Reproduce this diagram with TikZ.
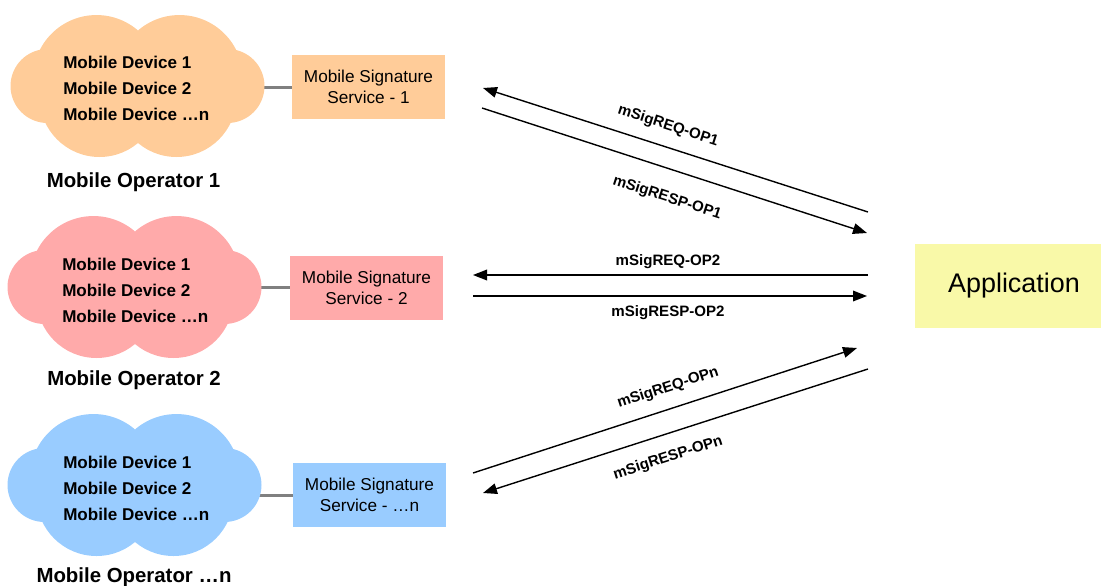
\documentclass[tikz,border=0pt]{standalone}
\usepackage{fontspec}
\setmainfont{Liberation Sans}
\usetikzlibrary{arrows.meta}

\definecolor{opOrange}{HTML}{FFCC99}
\definecolor{opPink}{HTML}{FFAAAA}
\definecolor{opBlue}{HTML}{99CCFF}
\definecolor{appYellow}{HTML}{F9F9A8}
\definecolor{linkGray}{HTML}{808080}

% a cloud built from six overlapping discs, centred on (#1,#2)
\newcommand\opcloud[3]{%
  \begin{scope}[shift={(#1,#2)}]
    \fill[#3] (-90,0) circle[radius=27.75pt]
              (90,0) circle[radius=27.75pt]
              (-41,-7.5) circle[radius=47.6pt]
              (42,-7.5) circle[radius=47.6pt]
              (-38,11) circle[radius=45pt]
              (39,11) circle[radius=45pt];
  \end{scope}}

\tikzset{
  cloudarea/.style={inner sep=0pt, minimum width=189.75pt, minimum height=106.5pt},
  devices/.style={anchor=west, inner sep=0pt, align=left,
    font=\fontsize{12.8pt}{19.5pt}\selectfont\bfseries},
  operator/.style={anchor=base, inner sep=0pt,
    font=\fontsize{15.3pt}{18pt}\selectfont\bfseries},
  service/.style={inner sep=0pt, align=center, minimum width=114.75pt, minimum height=48pt,
    font=\fontsize{12.9pt}{15.75pt}\selectfont},
  appbox/.style={fill=appYellow, inner sep=0pt, minimum width=148.5pt, minimum height=63pt,
    font=\fontsize{20.2pt}{24pt}\selectfont},
  link/.style={draw=linkGray, line width=2.25pt},
  msg/.style={draw=black, line width=1.05pt, -{Triangle[length=10.5pt, width=8pt]}},
  msglabel/.style={inner sep=0pt, font=\fontsize{11.3pt}{13pt}\selectfont\bfseries},
}

\begin{document}
\begin{tikzpicture}[x=0.75pt, y=-0.75pt]
  \useasboundingbox (0,0) rectangle (1101,586);

  % outline areas of the three operator clouds
  \node[cloudarea] (cloud1) at (137.5,86) {};
  \node[cloudarea] (cloud2) at (134.5,287) {};
  \node[cloudarea] (cloud3) at (134.5,485) {};

  % signature services
  \node[service, fill=opOrange] (svc1) at (368.5,87) {Mobile Signature\\Service - 1};
  \node[service, fill=opPink]   (svc2) at (366.5,287.5) {Mobile Signature\\Service - 2};
  \node[service, fill=opBlue]   (svc3) at (369.5,495) {Mobile Signature\\Service - \dots n};

  % links between each operator and its service
  \draw[link] (svc1.west) -- ([xshift=-3pt]svc1.west -| cloud1.east);
  \draw[link] (svc2.west) -- ([xshift=-3pt]svc2.west -| cloud2.east);
  \draw[link] (svc3.west) -- ([xshift=-3pt]svc3.west -| cloud3.east);

  % operator clouds
  \opcloud{137.5}{86}{opOrange}
  \opcloud{134.5}{287}{opPink}
  \opcloud{134.5}{485}{opBlue}

  \node[devices] (dev1) at (63,88) {Mobile Device 1\\Mobile Device 2\\Mobile Device \dots n};
  \node[devices] (dev2) at (62,290) {Mobile Device 1\\Mobile Device 2\\Mobile Device \dots n};
  \node[devices] (dev3) at (63,488) {Mobile Device 1\\Mobile Device 2\\Mobile Device \dots n};

  \node[operator] (op1) at (133.5,187) {Mobile Operator 1};
  \node[operator] (op2) at (134,385) {Mobile Operator 2};
  \node[operator] (op3) at (134,582) {Mobile Operator \dots n};

  % application
  \begin{scope}
    \clip (0,0) rectangle (1101,586);
    \node[appbox] (app) at (1014,286) {Application};
  \end{scope}

  % message end points
  \coordinate (r1a) at (868,212);  \coordinate (r1b) at (483,88);
  \coordinate (s1a) at (482,108);  \coordinate (s1b) at (867,233);
  \coordinate (r2a) at (868,275);  \coordinate (r2b) at (473,275);
  \coordinate (s2a) at (473,296);  \coordinate (s2b) at (867,296);
  \coordinate (rna) at (473,473);  \coordinate (rnb) at (857,348);
  \coordinate (sna) at (868,369);  \coordinate (snb) at (483,493);

  % request / response messages
  \draw[msg] (r1a) -- (r1b);
  \draw[msg] (s1a) -- (s1b);
  \draw[msg] (r2a) -- (r2b);
  \draw[msg] (s2a) -- (s2b);
  \draw[msg] (rna) -- (rnb);
  \draw[msg] (sna) -- (snb);

  \node[msglabel, rotate=-17.85] (l1q) at (668,126) {mSigREQ-OP1};
  \node[msglabel, rotate=-17.95] (l1s) at (667,198) {mSigRESP-OP1};
  \node[msglabel] (l2q) at (668,262) {mSigREQ-OP2};
  \node[msglabel] (l2s) at (668,313) {mSigRESP-OP2};
  \node[msglabel, rotate=18.0] (lnq) at (668,388) {mSigREQ-OPn};
  \node[msglabel, rotate=17.85] (lns) at (668,458) {mSigRESP-OPn};
\end{tikzpicture}
\end{document}
